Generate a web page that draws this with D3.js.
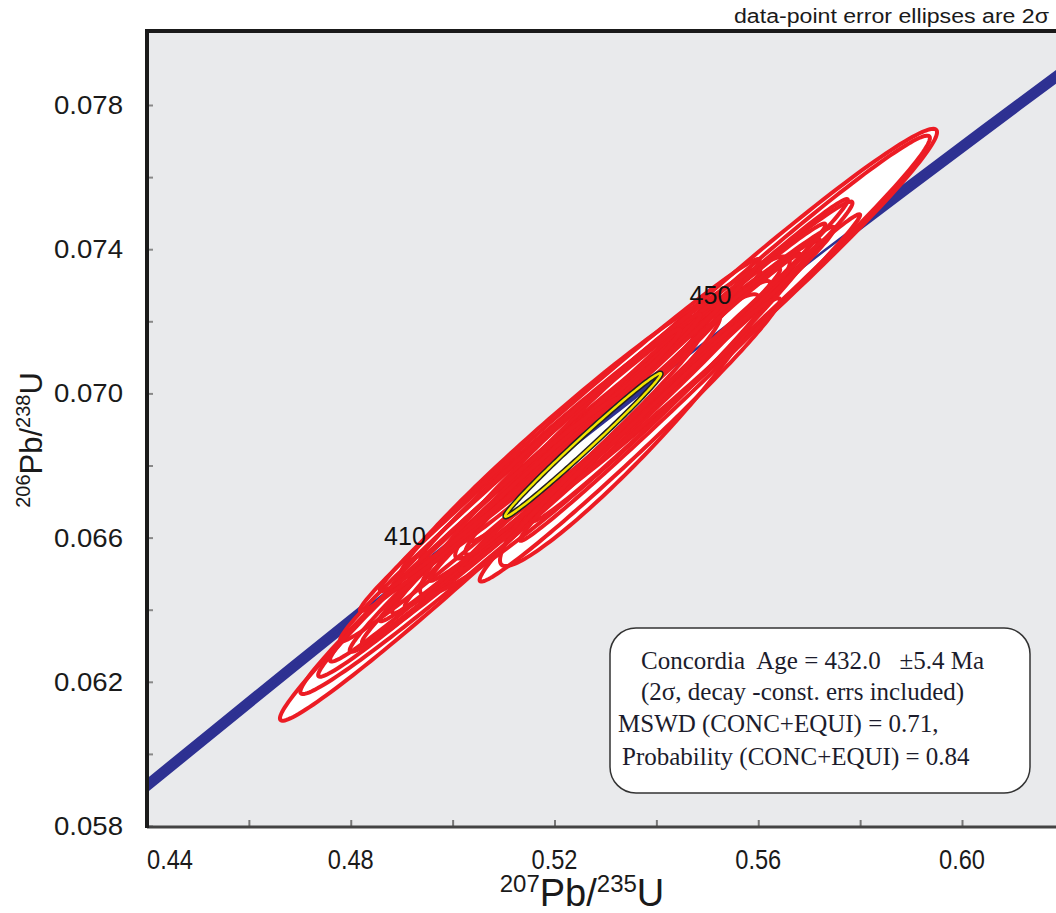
<!DOCTYPE html>
<html>
<head>
<meta charset="utf-8">
<title>Concordia</title>
<script src="https://d3js.org/d3.v7.min.js"></script>
<style>
  body { margin: 0; background: #fff; }
  text { font-family: "Liberation Sans", Arial, sans-serif; }
  .box text { font-family: "Liberation Serif", "DejaVu Serif", serif; }
</style>
</head>
<body>
<script>
// concordia curve (ages in Ma and the matching ratios)
var concAge = [370, 380, 390, 400, 410, 420, 430, 440, 450, 460, 470, 480, 490];
var concX = [0.43964, 0.45389, 0.46828, 0.48281, 0.49749, 0.51231, 0.52728, 0.54239, 0.55766, 0.57307, 0.58864, 0.60437, 0.62024];
var concY = [0.05908, 0.06072, 0.06237, 0.06402, 0.06567, 0.06732, 0.06898, 0.07064, 0.07230, 0.07397, 0.07563, 0.07730, 0.07897];
var ageLabels = [410, 450];

// data-point ellipses: 207/235, 2s err, 206/238, 2s err, rho
var ellX   = [0.5093, 0.5162, 0.5111, 0.5240, 0.5277, 0.5333, 0.5341, 0.5478, 0.5481, 0.5299, 0.5392, 0.5348, 0.5211, 0.5435,
              0.5172, 0.5250, 0.5152, 0.5270, 0.5338, 0.5348, 0.5162, 0.5044, 0.5348, 0.5466, 0.5230];
var ellSx  = [0.0432, 0.0461, 0.0375, 0.0442, 0.0455, 0.0452, 0.0435, 0.0473, 0.0456, 0.0363, 0.0358, 0.0255, 0.0314, 0.0283,
              0.0393, 0.0393, 0.0334, 0.0334, 0.0383, 0.0334, 0.0285, 0.0285, 0.0295, 0.0334, 0.0373];
var ellY   = [0.06654, 0.06739, 0.06690, 0.06836, 0.06889, 0.06961, 0.06973, 0.07138, 0.07134, 0.06910, 0.07026, 0.06898, 0.06878, 0.07037,
              0.06801, 0.06857, 0.06808, 0.06940, 0.06954, 0.06947, 0.06815, 0.06621, 0.06871, 0.07044, 0.06912];
var ellSy  = [0.00562, 0.00573, 0.00476, 0.00553, 0.00582, 0.00571, 0.00566, 0.00596, 0.00581, 0.00470, 0.00436, 0.00377, 0.00389, 0.00393,
              0.00489, 0.00489, 0.00412, 0.00406, 0.00474, 0.00439, 0.00363, 0.00365, 0.00393, 0.00453, 0.00461];
var ellRho = [0.988, 0.989, 0.990, 0.992, 0.995, 0.993, 0.995, 0.984, 0.988, 0.969, 0.992, 0.956, 0.980, 0.988,
              0.992, 0.994, 0.993, 0.991, 0.994, 0.996, 0.993, 0.988, 0.988, 0.995, 0.993];

// concordia age ellipse
var meanX = [0.5256], meanSx = [0.0153], meanY = [0.06857], meanSy = [0.00199], meanRho = [0.992];

var xTicks = [0.44, 0.48, 0.52, 0.56, 0.60];
var yTicks = [0.058, 0.062, 0.066, 0.070, 0.074, 0.078];
var boxLines = ["Concordia  Age = 432.0   \u00b15.4 Ma",
                "(2\u03c3, decay -const. errs included)",
                "MSWD (CONC+EQUI) = 0.71,",
                "Probability (CONC+EQUI) = 0.84"];

var w = 1056, h = 913;
var mLeft = 147, mTop = 31, mBottom = 826;

var x = d3.scaleLinear().domain([0.44, 0.60]).range([mLeft, 962]);
var y = d3.scaleLinear().domain([0.058, 0.078]).range([mBottom, 105]);

var svg = d3.select('body').append('svg')
  .attr('width', w).attr('height', h);

svg.append('clipPath').attr('id', 'plot')
  .append('rect').attr('x', mLeft).attr('y', mTop).attr('width', w - mLeft + 20).attr('height', mBottom - mTop);

svg.append('rect')
  .attr('x', mLeft).attr('y', mTop).attr('width', w - mLeft + 20).attr('height', mBottom - mTop)
  .attr('fill', '#e9eaec');

var g = svg.append('g').attr('clip-path', 'url(#plot)');

var concLine = d3.line()
  .x(function(d, i) { return x(concX[i]); })
  .y(function(d, i) { return y(concY[i]); })
  .curve(d3.curveCatmullRom);

// thick concordia band
g.append('path').datum(concAge).attr('d', concLine)
  .attr('fill', 'none').attr('stroke', '#2e3192').attr('stroke-width', 11);
g.append('path').datum(concAge).attr('d', concLine)
  .attr('fill', 'none').attr('stroke', '#b6b8dc').attr('stroke-width', 1).attr('opacity', 0.6);

function ellipse(cx, sx, cy, sy, rho) {
  var k = Math.sqrt(1 - rho * rho);
  var pts = d3.range(0, 2 * Math.PI, Math.PI / 90).map(function(t) {
    return [x(cx + sx * Math.cos(t)), y(cy + sy * (rho * Math.cos(t) + k * Math.sin(t)))];
  });
  return d3.line().curve(d3.curveLinearClosed)(pts);
}

var ells = d3.range(ellX.length).map(function(i) {
  return ellipse(ellX[i], ellSx[i], ellY[i], ellSy[i], ellRho[i]);
});
var meanEll = ellipse(meanX[0], meanSx[0], meanY[0], meanSy[0], meanRho[0]);

// fills first, then thin concordia, then outlines
g.selectAll('.efill').data(ells).enter().append('path')
  .attr('class', 'efill').attr('d', function(d) { return d; })
  .attr('fill', '#fff');

g.append('path').datum(concAge).attr('d', concLine)
  .attr('fill', 'none').attr('stroke', '#2e3192').attr('stroke-width', 2.5);

g.selectAll('.eline').data(ells).enter().append('path')
  .attr('class', 'eline').attr('d', function(d) { return d; })
  .attr('fill', 'none').attr('stroke', '#ec1c24').attr('stroke-width', 4);

// concordia age ellipse on top, with the curve showing inside it
svg.append('clipPath').attr('id', 'meanclip').append('path').attr('d', meanEll);
g.append('path').attr('d', meanEll).attr('fill', '#fff');
g.append('path').datum(concAge).attr('d', concLine).attr('clip-path', 'url(#meanclip)')
  .attr('fill', 'none').attr('stroke', '#2e3192').attr('stroke-width', 5);
g.append('path').attr('d', meanEll)
  .attr('fill', 'none').attr('stroke', '#222').attr('stroke-width', 5.5);
g.append('path').attr('d', meanEll)
  .attr('fill', 'none').attr('stroke', '#f2e600').attr('stroke-width', 2.5);

// age labels on concordia
var ageOff = {410: [-14, -4], 450: [-15, -6]};
svg.selectAll('.age').data(ageLabels).enter().append('text')
  .attr('class', 'age')
  .attr('x', function(d) { return x(concX[concAge.indexOf(d)]) + ageOff[d][0]; })
  .attr('y', function(d) { return y(concY[concAge.indexOf(d)]) + ageOff[d][1]; })
  .attr('text-anchor', 'end').attr('font-size', 25).attr('fill', '#111')
  .text(function(d) { return d; });

// axes
var xAxis = d3.axisBottom(x).tickValues(d3.range(0.44, 0.625, 0.02)).tickSize(-6).tickFormat('');
var yAxis = d3.axisLeft(y).tickValues(d3.range(0.058, 0.0785, 0.002)).tickSize(-6).tickFormat('');

var gx = svg.append('g').attr('transform', 'translate(0,' + mBottom + ')').call(xAxis);
gx.selectAll('.tick line').attr('stroke', '#777').attr('stroke-width', 2);
gx.select('.domain').remove();
var gy = svg.append('g').attr('transform', 'translate(' + mLeft + ',0)').call(yAxis);
gy.selectAll('.tick line').attr('stroke', '#888').attr('stroke-width', 2);
gy.select('.domain').remove();

svg.append('line').attr('x1', mLeft).attr('x2', w).attr('y1', mBottom + 1).attr('y2', mBottom + 1)
  .attr('stroke', '#444').attr('stroke-width', 3);
svg.append('line').attr('x1', mLeft).attr('x2', mLeft).attr('y1', mTop - 2).attr('y2', mBottom + 2)
  .attr('stroke', '#1a1a1a').attr('stroke-width', 4);
svg.append('line').attr('x1', mLeft - 2).attr('x2', w).attr('y1', mTop).attr('y2', mTop)
  .attr('stroke', '#1a1a1a').attr('stroke-width', 4);

svg.selectAll('.xl').data(xTicks).enter().append('text')
  .attr('x', function(d, i) { return i === 0 ? mLeft : x(d); }).attr('y', 869)
  .attr('text-anchor', function(d, i) { return i === 0 ? 'start' : 'middle'; })
  .attr('font-size', 27).attr('fill', '#1a1a1a')
  .attr('textLength', 46).attr('lengthAdjust', 'spacingAndGlyphs')
  .text(function(d) { return d3.format('.2f')(d); });

svg.selectAll('.yl').data(yTicks).enter().append('text')
  .attr('x', 123).attr('y', function(d) { return y(d) + 9; })
  .attr('text-anchor', 'end').attr('font-size', 26).attr('fill', '#1a1a1a')
  .attr('textLength', 69).attr('lengthAdjust', 'spacingAndGlyphs')
  .text(function(d) { return d3.format('.3f')(d); });

// axis titles
var xt = svg.append('text').attr('x', 582).attr('y', 906).attr('text-anchor', 'middle')
  .attr('font-size', 38).attr('fill', '#1a1a1a');
xt.append('tspan').attr('font-size', 24).attr('dy', -14).text('207');
xt.append('tspan').attr('dy', 14).text('Pb/');
xt.append('tspan').attr('font-size', 24).attr('dy', -14).text('235');
xt.append('tspan').attr('dy', 14).text('U');

var yt = svg.append('text').attr('transform', 'translate(42,440) rotate(-90)')
  .attr('text-anchor', 'middle').attr('font-size', 31).attr('fill', '#1a1a1a');
yt.append('tspan').attr('font-size', 20).attr('dy', -12).text('206');
yt.append('tspan').attr('dy', 12).text('Pb/');
yt.append('tspan').attr('font-size', 20).attr('dy', -12).text('238');
yt.append('tspan').attr('dy', 12).text('U');

svg.append('text').attr('x', 1049).attr('y', 23).attr('text-anchor', 'end')
  .attr('font-size', 20).attr('fill', '#1a1a1a')
  .attr('textLength', 315).attr('lengthAdjust', 'spacingAndGlyphs')
  .text('data-point error ellipses are 2\u03c3');

// result box
var box = svg.append('g').attr('class', 'box');
box.append('rect').attr('x', 610).attr('y', 628).attr('width', 420).attr('height', 165)
  .attr('rx', 26).attr('fill', '#fff').attr('stroke', '#333').attr('stroke-width', 1.5);
var bx = [641, 641, 618, 622], by = [669, 700, 732, 765];
box.selectAll('text').data(boxLines).enter().append('text')
  .attr('x', function(d, i) { return bx[i]; })
  .attr('y', function(d, i) { return by[i]; })
  .attr('font-size', 25).attr('fill', '#1c1c2c')
  .attr('xml:space', 'preserve').style('white-space', 'pre')
  .text(function(d) { return d; });
</script>
</body>
</html>
